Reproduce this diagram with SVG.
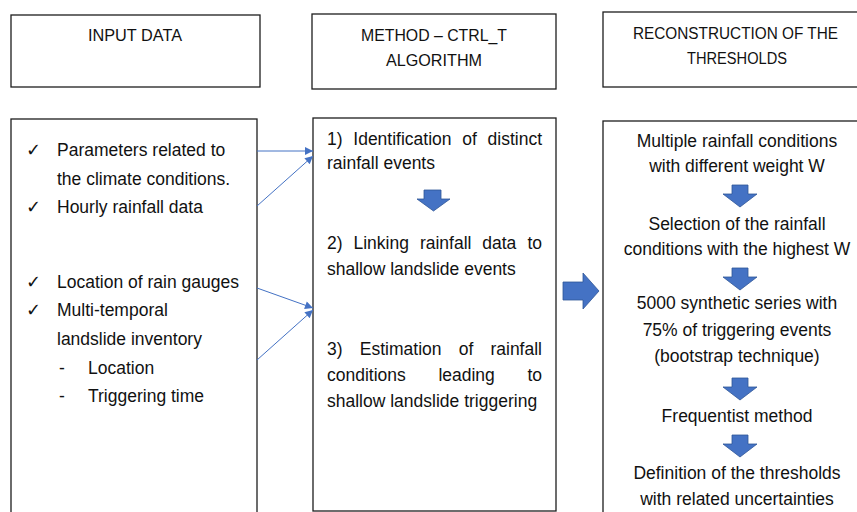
<svg xmlns="http://www.w3.org/2000/svg" width="857" height="512" viewBox="0 0 857 512">
  <defs>
    <style>
      .box { fill: #ffffff; stroke: #1e1e1e; stroke-width: 1.3; }
      .t { font-family: "Liberation Sans", Arial, sans-serif; font-size: 17.5px; fill: #111111; }
      .h { font-family: "Liberation Sans", Arial, sans-serif; font-size: 16px; fill: #111111; text-anchor: middle; }
      .c { text-anchor: middle; }
      .e { text-anchor: end; }
      .chk { font-family: "DejaVu Sans", sans-serif; font-size: 18px; fill: #111111; }
      .link { stroke: #4472C4; stroke-width: 1; fill: none; marker-end: url(#head); }
      .blk { fill: #4472C4; stroke: #2F5597; stroke-width: 0.8; }
    </style>
    <marker id="head" viewBox="0 0 10 10" refX="10" refY="5" markerWidth="11" markerHeight="8" markerUnits="userSpaceOnUse" orient="auto">
      <path d="M0,0 L10,5 L0,10 Z" fill="#4472C4"/>
    </marker>
  </defs>
  <rect width="857" height="512" fill="#ffffff"/>

  <!-- column 1: input data -->
  <g id="input-header">
    <rect class="box" x="11" y="15" width="249" height="72"/>
    <text class="h" x="135" y="41" textLength="94" lengthAdjust="spacingAndGlyphs">INPUT DATA</text>
  </g>
  <g id="input-data">
    <rect class="box" x="11" y="119" width="246" height="400"/>
    <text class="chk" x="26" y="156">✓</text>
    <text class="t" x="57" y="156">Parameters related to</text>
    <text class="t" x="57" y="185">the climate conditions.</text>
    <text class="chk" x="26" y="213">✓</text>
    <text class="t" x="57" y="213">Hourly rainfall data</text>
    <text class="chk" x="26" y="288">✓</text>
    <text class="t" x="57" y="288">Location of rain gauges</text>
    <text class="chk" x="26" y="316">✓</text>
    <text class="t" x="57" y="316">Multi-temporal</text>
    <text class="t" x="57" y="345">landslide inventory</text>
    <text class="t" x="59" y="374">-</text>
    <text class="t" x="88" y="374">Location</text>
    <text class="t" x="59" y="402">-</text>
    <text class="t" x="88" y="402">Triggering time</text>
  </g>

  <!-- column 2: method -->
  <g id="method-header">
    <rect class="box" x="312" y="14" width="244" height="75"/>
    <text class="h" x="434" y="41" textLength="146" lengthAdjust="spacingAndGlyphs">METHOD – CTRL_T</text>
    <text class="h" x="434" y="66" textLength="96" lengthAdjust="spacingAndGlyphs">ALGORITHM</text>
  </g>
  <g id="method-steps">
    <rect class="box" x="313" y="118" width="243" height="393"/>
    <!-- justified lines: words placed individually -->
    <text class="t" x="327" y="145">1)</text>
    <text class="t" x="353.3" y="145">Identification</text>
    <text class="t" x="462.2" y="145">of</text>
    <text class="t e" x="542" y="145">distinct</text>
    <text class="t" x="327" y="169">rainfall events</text>
    <path class="blk" d="M424,190 H441 V199 H450 L433.5,211 L417,199 H424 Z"/>
    <text class="t" x="327" y="249">2)</text>
    <text class="t" x="353.5" y="249">Linking</text>
    <text class="t" x="419.9" y="249">rainfall</text>
    <text class="t" x="482.3" y="249">data</text>
    <text class="t e" x="542" y="249">to</text>
    <text class="t" x="327" y="275">shallow landslide events</text>
    <text class="t" x="327" y="355">3)</text>
    <text class="t" x="359.8" y="355">Estimation</text>
    <text class="t" x="458.7" y="355">of</text>
    <text class="t e" x="542" y="355">rainfall</text>
    <text class="t" x="327" y="381">conditions</text>
    <text class="t" x="438.4" y="381">leading</text>
    <text class="t e" x="542" y="381">to</text>
    <text class="t" x="327" y="407">shallow landslide triggering</text>
  </g>

  <!-- column 3: thresholds -->
  <g id="thresholds-header">
    <rect class="box" x="603" y="12" width="262" height="75"/>
    <text class="h" x="735.5" y="39" textLength="205" lengthAdjust="spacingAndGlyphs">RECONSTRUCTION OF THE</text>
    <text class="h" x="737" y="64" textLength="100" lengthAdjust="spacingAndGlyphs">THRESHOLDS</text>
  </g>
  <g id="thresholds-steps">
    <rect class="box" x="603" y="121" width="262" height="400"/>
    <text class="t c" x="737" y="147">Multiple rainfall conditions</text>
    <text class="t c" x="737" y="172">with different weight W</text>
    <path class="blk" d="M732,185 H748 V194 H757 L740,207 L723,194 H732 Z"/>
    <text class="t c" x="737" y="230">Selection of the rainfall</text>
    <text class="t c" x="737" y="255">conditions with the highest W</text>
    <path class="blk" d="M732,268 H748 V277 H757 L740,290 L723,277 H732 Z"/>
    <text class="t c" x="737" y="309">5000 synthetic series with</text>
    <text class="t c" x="737" y="336">75% of triggering events</text>
    <text class="t c" x="737" y="362">(bootstrap technique)</text>
    <path class="blk" d="M732,378 H748 V387 H757 L740,400 L723,387 H732 Z"/>
    <text class="t c" x="737" y="422">Frequentist method</text>
    <path class="blk" d="M732,435 H748 V444 H757 L740,457 L723,444 H732 Z"/>
    <text class="t c" x="737" y="479">Definition of the thresholds</text>
    <text class="t c" x="737" y="505">with related uncertainties</text>
  </g>

  <!-- connectors -->
  <g id="connectors">
    <line class="link" x1="257" y1="151" x2="313" y2="151"/>
    <line class="link" x1="257" y1="206" x2="313" y2="156"/>
    <line class="link" x1="257" y1="288" x2="313" y2="308"/>
    <line class="link" x1="257" y1="360" x2="313" y2="310"/>
    <path class="blk" d="M563,282 H583 V273 L599,291 L583,309 V300 H563 Z"/>
  </g>
</svg>
